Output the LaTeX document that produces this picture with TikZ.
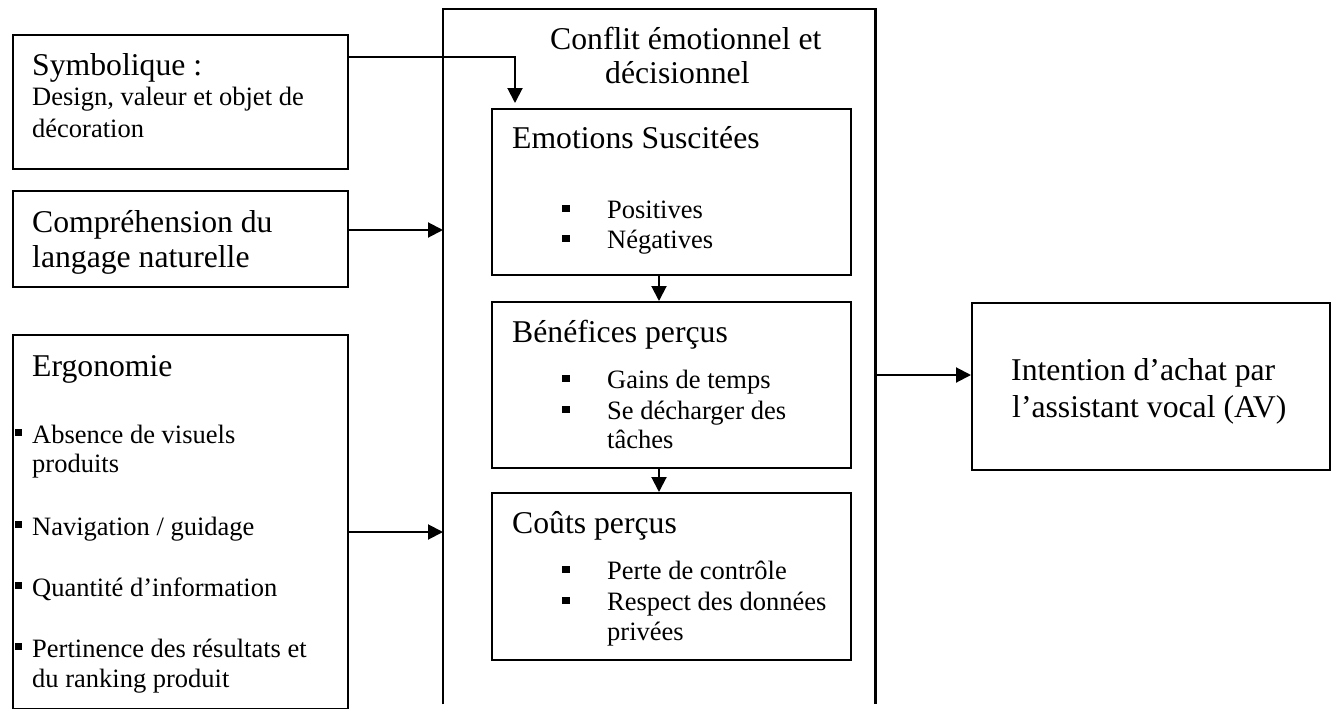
\documentclass[tikz,border=0pt]{standalone}
\usepackage{fontspec}
\setmainfont{Liberation Serif}
\usetikzlibrary{arrows.meta}
\tikzset{
  box/.style={draw, line width=2pt, rectangle, anchor=north west, inner sep=0pt},
  hd/.style={font=\fontsize{31.7}{36}\selectfont, anchor=base west, inner sep=0pt},
  sm/.style={font=\fontsize{26.5}{30}\selectfont, anchor=base west, inner sep=0pt},
  arr/.style={line width=2pt, -{Triangle[length=15pt,width=15pt]}},
  frameline/.style={line width=2.5pt}
}
\newcommand\mybul[2]{\fill (#1,#2-13.5) rectangle ++(7.5,7.5);}
\newcommand\mysbul[2]{\fill (#1,#2-14) rectangle ++(7,6.5);}
\begin{document}
\begin{tikzpicture}[x=1pt,y=-1pt]
\useasboundingbox (0,0) rectangle (1336,709);
% left boxes
\node[box, minimum width=335pt, minimum height=134pt] (sym) at (12,34) {};
\node[box, minimum width=335pt, minimum height=96pt] (comp) at (12,190) {};
\node[box, minimum width=335pt, minimum height=374pt] (ergo) at (12,334) {};
% big frame (open at bottom)
\node[anchor=north west, minimum width=432pt, minimum height=695pt, inner sep=0pt] (frame) at (443,9) {};
\draw[frameline] (frame.south west) -- (frame.north west) -- (frame.north east) -- (frame.south east);
% inner boxes
\node[box, minimum width=359pt, minimum height=166pt] (emo) at (491,108) {};
\node[box, minimum width=359pt, minimum height=166pt] (ben) at (491,301) {};
\node[box, minimum width=359pt, minimum height=167pt] (cout) at (491,492) {};
% right box
\node[box, minimum width=358pt, minimum height=167pt] (intent) at (971,302) {};

% texts: Symbolique
\node[hd] (t1) at (32,76) {Symbolique :};
\node[sm] (t2) at (32,106) {Design, valeur et objet de};
\node[sm] (t3) at (32,137) {décoration};
% Comprehension
\node[hd] (t4) at (32,232) {Compréhension du};
\node[hd] (t5) at (32,267) {langage naturelle};
% Ergonomie
\node[hd] (t6) at (32,376) {Ergonomie};
\node[sm] (t7) at (32,443) {Absence de visuels};
\node[sm] (t8) at (32,472) {produits};
\node[sm] (t9) at (32,535) {Navigation / guidage};
\node[sm] (t10) at (32,596) {Quantité d’information};
\node[sm] (t11) at (32,657) {Pertinence des résultats et};
\node[sm] (t12) at (32,687) {du ranking produit};
\mysbul{14.5}{443}
\mysbul{14.5}{535}
\mysbul{14.5}{596}
\mysbul{14.5}{657}
% Conflit
\node[hd] (t13) at (550,49) {Conflit émotionnel et};
\node[hd] (t14) at (605,84) {décisionnel};
% Emotions
\node[hd] (t15) at (512,148) {Emotions Suscitées};
\node[sm] (t16) at (607,218) {Positives};
\node[sm] (t17) at (607,248) {Négatives};
\mybul{562}{218}
\mybul{562}{248}
% Benefices
\node[hd] (t18) at (512,342) {Bénéfices perçus};
\node[sm] (t19) at (607,388) {Gains de temps};
\node[sm] (t20) at (607,419) {Se décharger des};
\node[sm] (t21) at (607,448) {tâches};
\mybul{562}{388}
\mybul{562}{419}
% Couts
\node[hd] (t22) at (512,533) {Coûts perçus};
\node[sm] (t23) at (607,579) {Perte de contrôle};
\node[sm] (t24) at (607,610) {Respect des données};
\node[sm] (t25) at (607,640) {privées};
\mybul{562}{579}
\mybul{562}{610}
% Intention
\node[hd] (t26) at (1011,380) {Intention d’achat par};
\node[hd] (t27) at (1012,417) {l’assistant vocal (AV)};

% connectors
\draw[arr, shorten >=5pt] (sym.east |- 0,57) -| (emo.north -| 515,0);
\draw[arr] (comp.east |- 0,230) -- (frame.west |- 0,230);
\draw[arr] (ergo.east |- 0,532) -- (frame.west |- 0,532);
\draw[arr] (emo.south -| 659,0) -- (ben.north -| 659,0);
\draw[arr] (ben.south -| 659,0) -- (cout.north -| 659,0);
\draw[arr] (frame.east |- 0,375) -- (intent.west |- 0,375);
\end{tikzpicture}
\end{document}
